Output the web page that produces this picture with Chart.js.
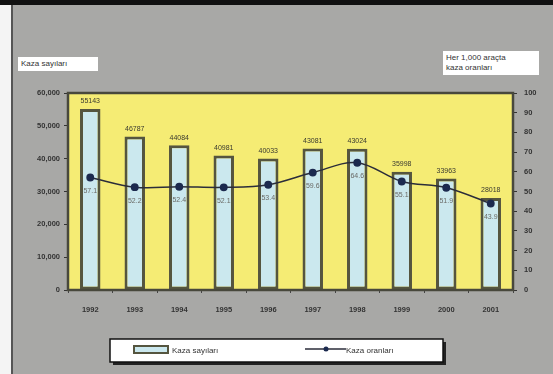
<!DOCTYPE html>
<html>
<head>
<meta charset="utf-8">
<script src="https://cdn.jsdelivr.net/npm/chart.js@4/dist/chart.umd.min.js"></script>
<style>
  html, body { margin: 0; padding: 0; background: #ffffff; }
  #frame { position: absolute; left: 0; top: 0; width: 553px; height: 374px; background: #a8a8a6; overflow: hidden; }
  #topbar { position: absolute; left: 0; top: 0; width: 553px; height: 5px; background: #111; }
  #leftstrip { position: absolute; left: 0; top: 5px; width: 11px; height: 369px; background: #f4f4f4; border-right: 2px solid #555; }
  .tag { position: absolute; background: #ffffff; color: #333; font: 8px "Liberation Sans", Arial, sans-serif; line-height: 10px; padding: 2px 3px; }
  #leftTag { left: 18px; top: 57px; width: 74px; }
  #rightTag { left: 443px; top: 51px; width: 90px; }
  canvas { position: absolute; left: 0; top: 0; }
</style>
</head>
<body>
<div id="frame">
  <div id="topbar"></div>
  <div id="leftstrip"></div>
  <div class="tag" id="leftTag">Kaza sayıları</div>
  <div class="tag" id="rightTag">Her 1,000 araçta<br>kaza oranları</div>
  <canvas id="c" width="553" height="374"></canvas>
</div>
<script>
// Yearly accident counts and accident rate per 1,000 vehicles
const years = ['1992', '1993', '1994', '1995', '1996', '1997', '1998', '1999', '2000', '2001'];
const accidentCounts = [55143, 46787, 44084, 40981, 40033, 43081, 43024, 35998, 33963, 28018];
const accidentRates = [57.1, 52.2, 52.4, 52.1, 53.4, 59.6, 64.6, 55.1, 51.9, 43.9];
const countTicks = [0, 10000, 20000, 30000, 40000, 50000, 60000];
const rateTicks = [0, 10, 20, 30, 40, 50, 60, 70, 80, 90, 100];

const countLabel = 'Kaza sayıları';
const rateLabel = 'Kaza oranları';

const FONT = '"Liberation Sans", Arial, sans-serif';
const BAR_FILL = '#cbe8ee';
const BAR_EDGE = '#55553f';
const LINE_COLOR = '#2b2d3a';
const POINT_COLOR = '#1c2a4f';

// Yellow plot background and dark frame around the plot area
const plotFrame = {
  id: 'plotFrame',
  beforeDraw(chart) {
    const { ctx, chartArea: a } = chart;
    ctx.save();
    ctx.fillStyle = '#f5ec74';
    ctx.fillRect(a.left, a.top, a.right - a.left, a.bottom - a.top);
    ctx.restore();
  },
  afterDraw(chart) {
    const { ctx, chartArea: a } = chart;
    ctx.save();
    ctx.strokeStyle = '#48483c';
    ctx.lineWidth = 2.5;
    ctx.strokeRect(a.left, a.top, a.right - a.left, a.bottom - a.top);
    ctx.restore();
  }
};

// Value labels: counts above each bar, rates below each point
const valueLabels = {
  id: 'valueLabels',
  afterDatasetsDraw(chart) {
    const ctx = chart.ctx;
    ctx.save();
    ctx.font = '7px ' + FONT;
    ctx.textAlign = 'center';
    ctx.textBaseline = 'bottom';
    ctx.fillStyle = '#3a3a30';
    chart.getDatasetMeta(0).data.forEach((bar, i) => {
      ctx.fillText(String(accidentCounts[i]), bar.x, bar.y - 4);
    });
    ctx.textBaseline = 'top';
    ctx.fillStyle = '#6a6a66';
    chart.getDatasetMeta(1).data.forEach((pt, i) => {
      ctx.fillText(accidentRates[i].toFixed(1), pt.x, pt.y + 10);
    });
    ctx.restore();
  }
};

// Boxed legend along the bottom
const boxedLegend = {
  id: 'boxedLegend',
  afterDraw(chart) {
    const ctx = chart.ctx;
    const x = 110, y = 339, w = 333, h = 23;
    ctx.save();
    ctx.fillStyle = '#222';
    ctx.fillRect(x + 3, y + 3, w, h);
    ctx.fillStyle = '#ffffff';
    ctx.fillRect(x, y, w, h);
    ctx.strokeStyle = '#111';
    ctx.lineWidth = 1.5;
    ctx.strokeRect(x, y, w, h);

    ctx.fillStyle = BAR_FILL;
    ctx.fillRect(134, 346, 34, 7);
    ctx.strokeStyle = BAR_EDGE;
    ctx.lineWidth = 2;
    ctx.strokeRect(134, 346, 34, 7);

    ctx.strokeStyle = LINE_COLOR;
    ctx.lineWidth = 1.5;
    ctx.beginPath();
    ctx.moveTo(305, 349);
    ctx.lineTo(346, 349);
    ctx.stroke();
    ctx.fillStyle = POINT_COLOR;
    ctx.beginPath();
    ctx.arc(326, 349, 2.5, 0, Math.PI * 2);
    ctx.fill();

    ctx.fillStyle = '#333';
    ctx.font = '8px ' + FONT;
    ctx.textAlign = 'left';
    ctx.textBaseline = 'middle';
    ctx.fillText(countLabel, 172, 351);
    ctx.fillText(rateLabel, 346, 351);
    ctx.restore();
  }
};

new Chart(document.getElementById('c'), {
  data: {
    labels: years,
    datasets: [
      {
        type: 'bar',
        label: countLabel,
        data: accidentCounts,
        yAxisID: 'y',
        backgroundColor: BAR_FILL,
        borderColor: BAR_EDGE,
        borderWidth: 3,
        borderSkipped: false,
        categoryPercentage: 1.0,
        barPercentage: 0.46,
        order: 2
      },
      {
        type: 'line',
        label: rateLabel,
        data: accidentRates,
        yAxisID: 'y1',
        borderColor: LINE_COLOR,
        borderWidth: 1.5,
        tension: 0.35,
        pointRadius: 3.2,
        pointBackgroundColor: POINT_COLOR,
        pointBorderColor: POINT_COLOR,
        order: 1
      }
    ]
  },
  options: {
    responsive: false,
    animation: false,
    events: [],
    layout: { padding: { top: 93, bottom: 54, left: 0, right: 0 } },
    plugins: { legend: { display: false }, tooltip: { enabled: false } },
    scales: {
      x: {
        offset: true,
        grid: { display: true, offset: true, drawOnChartArea: false, drawTicks: true, tickLength: 3, color: '#444' },
        border: { display: false },
        ticks: { color: '#333', font: { family: FONT, size: 7.5, weight: 'bold' }, padding: 12, maxRotation: 0 },
        afterFit(s) { s.height = 30; }
      },
      y: {
        position: 'left',
        min: 0, max: 60000,
        afterBuildTicks(s) { s.ticks = countTicks.map(v => ({ value: v })); },
        grid: { drawOnChartArea: false, drawTicks: true, tickLength: 4, color: '#333' },
        border: { display: false },
        ticks: {
          color: '#333', font: { family: FONT, size: 7.5, weight: 'bold' }, padding: 4,
          callback: v => v.toLocaleString('en-US')
        },
        afterFit(s) { s.width = 68; }
      },
      y1: {
        position: 'right',
        min: 0, max: 100,
        afterBuildTicks(s) { s.ticks = rateTicks.map(v => ({ value: v })); },
        grid: { drawOnChartArea: false, drawTicks: true, tickLength: 4, color: '#333' },
        border: { display: false },
        ticks: { color: '#333', font: { family: FONT, size: 7.5, weight: 'bold' }, padding: 7 },
        afterFit(s) { s.width = 40; }
      }
    }
  },
  plugins: [plotFrame, valueLabels, boxedLegend]
});
</script>
</body>
</html>
